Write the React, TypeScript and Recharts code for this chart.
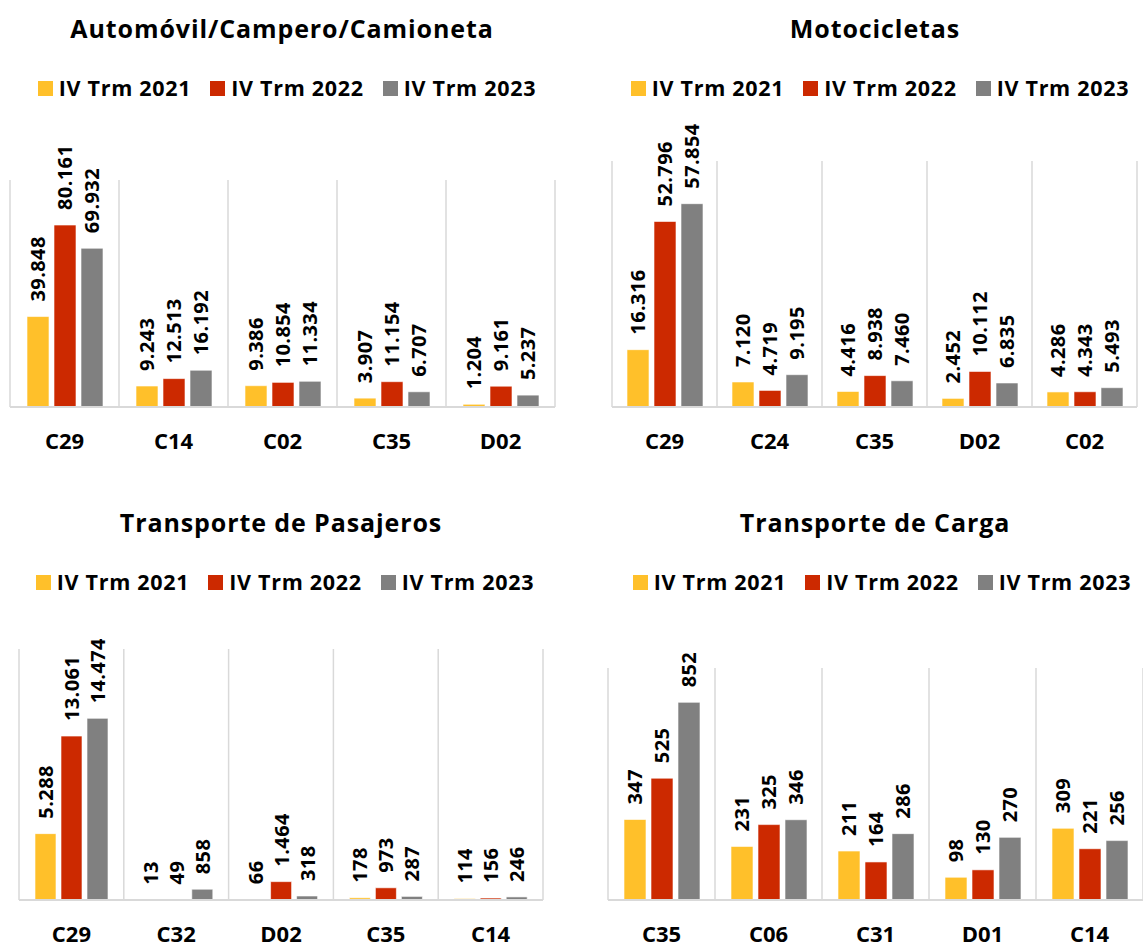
import { BarChart, Bar, XAxis, YAxis, CartesianGrid, LabelList } from 'recharts'

const SERIES = ['IV Trm 2021', 'IV Trm 2022', 'IV Trm 2023']
const COLORS = ['#FFC02A', '#CC2900', '#808080']

// Automóvil/Campero/Camioneta
const autoCats = ['C29', 'C14', 'C02', 'C35', 'D02']
const auto2021 = [39848, 9243, 9386, 3907, 1204]
const auto2022 = [80161, 12513, 10854, 11154, 9161]
const auto2023 = [69932, 16192, 11334, 6707, 5237]

// Motocicletas
const motoCats = ['C29', 'C24', 'C35', 'D02', 'C02']
const moto2021 = [16316, 7120, 4416, 2452, 4286]
const moto2022 = [52796, 4719, 8938, 10112, 4343]
const moto2023 = [57854, 9195, 7460, 6835, 5493]

// Transporte de Pasajeros
const pasCats = ['C29', 'C32', 'D02', 'C35', 'C14']
const pas2021 = [5288, 13, 66, 178, 114]
const pas2022 = [13061, 49, 1464, 973, 156]
const pas2023 = [14474, 858, 318, 287, 246]

// Transporte de Carga
const cargaCats = ['C35', 'C06', 'C31', 'D01', 'C14']
const carga2021 = [347, 231, 211, 98, 309]
const carga2022 = [525, 325, 164, 130, 221]
const carga2023 = [852, 346, 286, 270, 256]

const FONT = '"Open Sans", Lato, sans-serif'

const fmt = (v: number) => String(v).replace(/\B(?=(\d{3})+(?!\d))/g, '.')

const build = (cats: string[], a: number[], b: number[], c: number[]) =>
  cats.map((cat, i) => ({ cat, s0: a[i], s1: b[i], s2: c[i] }))

function RotLabel(props: any) {
  const { x, y, width, value } = props
  const cx = Number(x) + Number(width) / 2
  const ty = Number(y) - 15
  return (
    <text
      x={cx}
      y={ty}
      transform={`rotate(-90, ${cx}, ${ty})`}
      textAnchor="start"
      dominantBaseline="central"
      fontSize={20}
      fontWeight={700}
      fontFamily={FONT}
      letterSpacing={0.4}
      fill="#000"
    >
      {fmt(value)}
    </text>
  )
}

interface PanelProps {
  title: string
  data: { cat: string; s0: number; s1: number; s2: number }[]
  max: number
  left: number
  top: number
  width: number
  height: number
  margin: { top: number; right: number; left: number; bottom: number }
  titleX: number
  titleY: number
  legendX: number
  legendY: number
  barSize: number
}

function Panel(p: PanelProps) {
  return (
    <div style={{ position: 'absolute', left: p.left, top: p.top, width: p.width, height: p.height }}>
      <div
        style={{
          position: 'absolute', left: p.titleX - 300, width: 600, top: p.titleY - 17, textAlign: 'center',
          fontFamily: FONT, fontWeight: 700, fontSize: 25, letterSpacing: 0.9, lineHeight: '34px', color: '#000',
        }}
      >
        {p.title}
      </div>
      <div
        style={{
          position: 'absolute', left: p.legendX - 300, width: 600, top: p.legendY - 15, display: 'flex',
          justifyContent: 'center', alignItems: 'center', gap: 19, fontFamily: FONT, fontWeight: 700,
          fontSize: 21.5, letterSpacing: 0.7, lineHeight: '30px',
        }}
      >
        {SERIES.map((s, i) => (
          <span key={s} style={{ display: 'flex', alignItems: 'center', gap: 6 }}>
            <span style={{ width: 15, height: 15, background: COLORS[i], display: 'inline-block' }} />
            {s}
          </span>
        ))}
      </div>
      <BarChart
        width={p.width}
        height={p.height}
        data={p.data}
        margin={p.margin}
        barGap={5}
        barCategoryGap={0}
        style={{ position: 'absolute', left: 0, top: 0 }}
      >
        <CartesianGrid
          horizontal={false}
          stroke="#D9D9D9"
          strokeWidth={1.5}
          verticalCoordinatesGenerator={({ offset }: any) =>
            Array.from({ length: p.data.length + 1 }, (_, i) => offset.left + (i * offset.width) / p.data.length)
          }
        />
        <YAxis hide domain={[0, p.max]} />
        <XAxis
          dataKey="cat"
          height={60}
          axisLine={{ stroke: '#D9D9D9', strokeWidth: 2 }}
          tickLine={false}
          tick={{ fontSize: 22, fontWeight: 700, fill: '#000', fontFamily: FONT }}
          dy={18}
          interval={0}
        />
        {['s0', 's1', 's2'].map((k, i) => (
          <Bar key={k} dataKey={k} name={SERIES[i]} fill={COLORS[i]} barSize={p.barSize} stroke="#fff" strokeWidth={0.6} isAnimationActive={false}>
            <LabelList dataKey={k} content={RotLabel} />
          </Bar>
        ))}
      </BarChart>
    </div>
  )
}

export default function App() {
  return (
    <div style={{ position: 'absolute', left: 0, top: 0, width: 1143, height: 946, overflow: 'hidden', background: '#fff' }}>
      <Panel
        title="Automóvil/Campero/Camioneta"
        data={build(autoCats, auto2021, auto2022, auto2023)}
        max={100000}
        left={0} top={0} width={571} height={467}
        margin={{ top: 180, right: 16, left: 10, bottom: 0 }}
        titleX={282} titleY={28} legendX={287} legendY={88}
        barSize={22}
      />
      <Panel
        title="Motocicletas"
        data={build(motoCats, moto2021, moto2022, moto2023)}
        max={70000}
        left={572} top={0} width={571} height={467}
        margin={{ top: 161, right: 6, left: 40, bottom: 0 }}
        titleX={303} titleY={28} legendX={308} legendY={88}
        barSize={22}
      />
      <Panel
        title="Transporte de Pasajeros"
        data={build(pasCats, pas2021, pas2022, pas2023)}
        max={20000}
        left={0} top={472} width={571} height={488}
        margin={{ top: 177, right: 28, left: 19, bottom: 0 }}
        titleX={281} titleY={50} legendX={285} legendY={110}
        barSize={21}
      />
      <Panel
        title="Transporte de Carga"
        data={build(cargaCats, carga2021, carga2022, carga2023)}
        max={1000}
        left={572} top={472} width={571} height={488}
        margin={{ top: 196, right: 0, left: 36, bottom: 0 }}
        titleX={303} titleY={50} legendX={310} legendY={110}
        barSize={22}
      />
    </div>
  )
}
